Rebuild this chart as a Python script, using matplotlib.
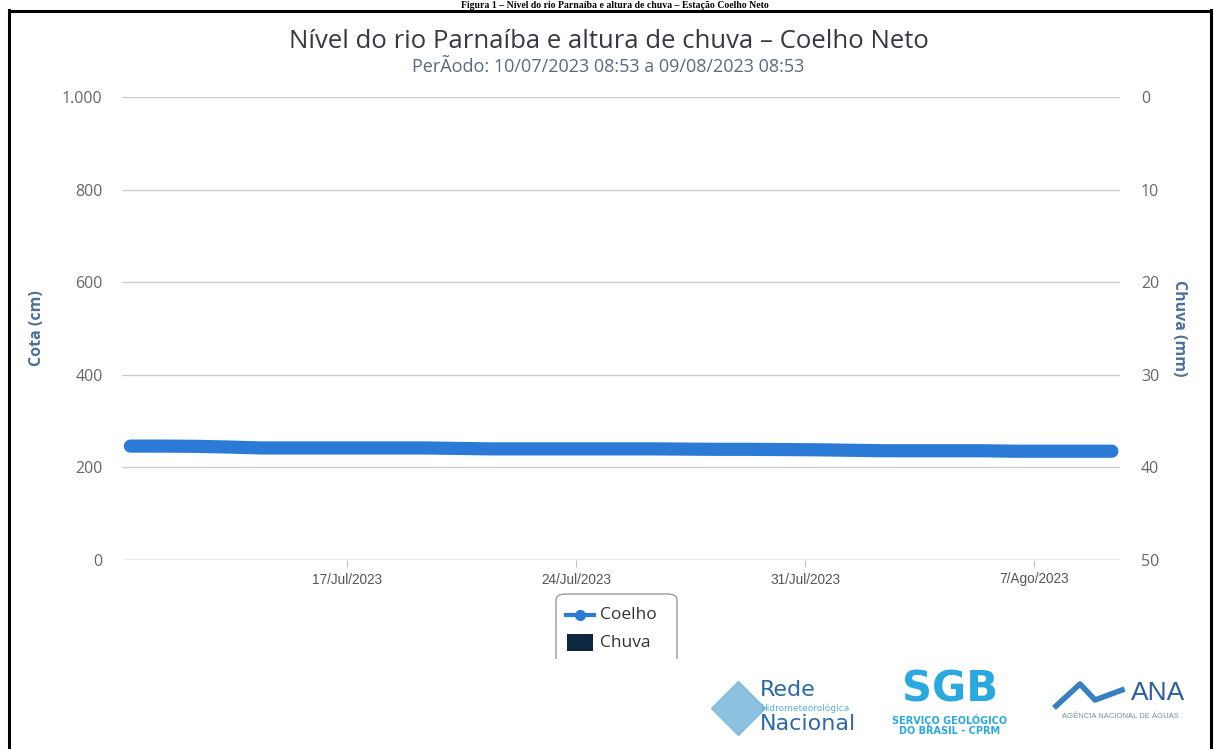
import matplotlib
matplotlib.use("Agg")
import matplotlib.pyplot as plt
from matplotlib.patches import FancyBboxPatch, Rectangle
from matplotlib.lines import Line2D
import datetime as dt

# ---------------- data ----------------
start = dt.datetime(2023, 7, 10, 8, 53)
cota_dates = [start + dt.timedelta(days=k) for k in range(31)]
cota_values = [246, 246, 245.5, 244, 242, 242, 242, 242, 242, 242, 241,
               240, 240, 240, 240, 240, 240, 239.5, 239, 239, 238.5, 238,
               237, 236, 236, 236, 236, 235, 235, 235, 235]
chuva_dates = [start + dt.timedelta(days=k) for k in range(31)]
chuva_values = [0] * 31
xtick_dates = [dt.datetime(2023, 7, 17), dt.datetime(2023, 7, 24),
               dt.datetime(2023, 7, 31), dt.datetime(2023, 8, 7)]
xtick_labels = ["17/Jul/2023", "24/Jul/2023", "31/Jul/2023", "7/Ago/2023"]
left_ticks = [0, 200, 400, 600, 800, 1000]
left_labels = ["0", "200", "400", "600", "800", "1.000"]
right_ticks = [0, 10, 20, 30, 40, 50]

W, H = 1214, 749
fig = plt.figure(figsize=(W / 100, H / 100), dpi=100)
fig.patch.set_facecolor("white")

def fx(px):
    return px / W

def fy(py):
    return 1 - py / H

ax = fig.add_axes([fx(122), fy(560), fx(1120) - fx(122), fy(97) - fy(560)])
ax.set_facecolor("none")
ax.set_xlim(dt.datetime(2023, 7, 10, 2, 45), dt.datetime(2023, 8, 9, 14, 50))
ax.set_ylim(0, 1000)
for s in ax.spines.values():
    s.set_visible(False)
ax.set_yticks(left_ticks)
ax.set_yticklabels(left_labels)
ax.grid(axis="y", color="#cccccc", linewidth=1)
ax.tick_params(axis="y", length=0, pad=14, labelsize=11.5, labelcolor="#666666")
ax.set_xticks(xtick_dates)
ax.set_xticklabels(xtick_labels)
ax.tick_params(axis="x", length=5, width=0.8, color="#c0c0c0", labelsize=9.8,
               labelcolor="#555555", pad=4)
for lab in ax.get_xticklabels():
    lab.set_fontfamily("Liberation Sans")
ax.set_ylabel("Cota (cm)", color="#4d6f99", fontsize=11.5, fontweight="bold",
              labelpad=12, family="Open Sans")

ax2 = ax.twinx()
ax2.set_ylim(50, 0)
for s in ax2.spines.values():
    s.set_visible(False)
ax2.set_yticks(right_ticks)
ax2.tick_params(axis="y", length=0, pad=15, labelsize=11.5, labelcolor="#666666")
ax2.set_ylabel("Chuva (mm)", color="#4d6f99", fontsize=11.5, fontweight="bold",
               rotation=-90, labelpad=20, family="Open Sans")
ax2.bar(chuva_dates, chuva_values, width=0.03, color="#0f2640")

ax.plot(cota_dates, cota_values, color="#2a7ad6", linewidth=9.5,
        solid_capstyle="round", solid_joinstyle="round", zorder=5)
ax.set_zorder(ax2.get_zorder() + 1)
ax.axhline(0, color="#cccccc", linewidth=1)

for lab in ax.get_yticklabels() + ax2.get_yticklabels():
    lab.set_fontfamily("Open Sans")

# titles
fig.text(fx(609), fy(42), "Nível do rio Parnaíba e altura de chuva \u2013 Coelho Neto",
         ha="center", va="center", fontsize=18.5, color="#333a45", family="Open Sans")
fig.text(fx(608), fy(67), "PerÃodo: 10/07/2023 08:53 a 09/08/2023 08:53",
         ha="center", va="center", fontsize=13, color="#5a6a7e", family="Open Sans")

# caption at the very top (cropped in the reference)
fig.text(fx(615), fy(5), "Figura 1 \u2013 Nível do rio Parnaíba e altura de chuva \u2013 Estação Coelho Neto",
         ha="center", va="center", fontsize=7, fontweight="bold", color="black",
         family="Liberation Serif")

# page frame
fig.add_artist(Line2D([fx(9), fx(9)], [fy(10), fy(749)], color="black", lw=2.2))
fig.add_artist(Line2D([fx(9), fx(1211)], [fy(11), fy(11)], color="black", lw=2.2))
fig.add_artist(Line2D([fx(1211), fx(1211)], [fy(10), fy(749)], color="black", lw=2.2))

# legend box (manual, partly cropped by the logo band)
lb = FancyBboxPatch((fx(556), fy(680)), fx(677) - fx(556), fy(594) - fy(680),
                    boxstyle="round,pad=0,rounding_size=0.008",
                    transform=fig.transFigure, facecolor="white",
                    edgecolor="#999999", linewidth=1)
fig.add_artist(lb)
fig.add_artist(Rectangle((fx(550), fy(749)), fx(700) - fx(550), fy(659) - fy(749),
                         transform=fig.transFigure, facecolor="white", edgecolor="none"))
fig.add_artist(Line2D([fx(566), fx(594)], [fy(615), fy(615)], color="#2a7ad6", lw=3))
fig.add_artist(Line2D([fx(580)], [fy(615)], color="#2a7ad6", marker="o", markersize=7))
fig.text(fx(600), fy(615), "Coelho", ha="left", va="center", fontsize=12.5,
         color="#333333", family="Open Sans")
fig.add_artist(Rectangle((fx(567), fy(651)), fx(593) - fx(567), fy(634) - fy(651),
                         transform=fig.transFigure, facecolor="#0f2640",
                         edgecolor="none"))
fig.text(fx(600), fy(643), "Chuva", ha="left", va="center", fontsize=12.5,
         color="#333333", family="Open Sans")

# logos as text
fig.add_artist(Line2D([fx(738)], [fy(708)], marker="D", markersize=28,
                      color="#6fb3d8", alpha=0.8))
fig.text(fx(760), fy(690), "Rede", ha="left", va="center", fontsize=16,
         color="#2a6aa8", family="Liberation Sans Narrow")
fig.text(fx(760), fy(708), "Hidrometeorológica", ha="left", va="center", fontsize=6.5,
         color="#5ab0e0", family="Liberation Sans Narrow")
fig.text(fx(760), fy(724), "Nacional", ha="left", va="center", fontsize=16,
         color="#2a6aa8", family="Liberation Sans Narrow")
fig.text(fx(950), fy(690), "SGB", ha="center", va="center", fontsize=30,
         fontweight="bold", color="#2aa8e0", family="DejaVu Sans")
fig.text(fx(950), fy(720), "SERVIÇO GEOLÓGICO", ha="center", va="center", fontsize=7,
         fontweight="bold", color="#2aa8e0", family="DejaVu Sans")
fig.text(fx(950), fy(731), "DO BRASIL - CPRM", ha="center", va="center", fontsize=7,
         fontweight="bold", color="#2aa8e0", family="DejaVu Sans")
fig.add_artist(Line2D([fx(1056), fx(1080), fx(1095), fx(1122)],
                      [fy(706), fy(684), fy(700), fy(690)], color="#3a7fc0", lw=4))
fig.text(fx(1158), fy(693), "ANA", ha="center", va="center", fontsize=19,
         color="#2f5f9a", family="Liberation Sans")
fig.text(fx(1120), fy(717), "AGÊNCIA NACIONAL DE ÁGUAS", ha="center", va="center",
         fontsize=5.5, color="#7a8a9a", family="Liberation Sans")

fig.savefig("out.png", dpi=100, facecolor="white")
